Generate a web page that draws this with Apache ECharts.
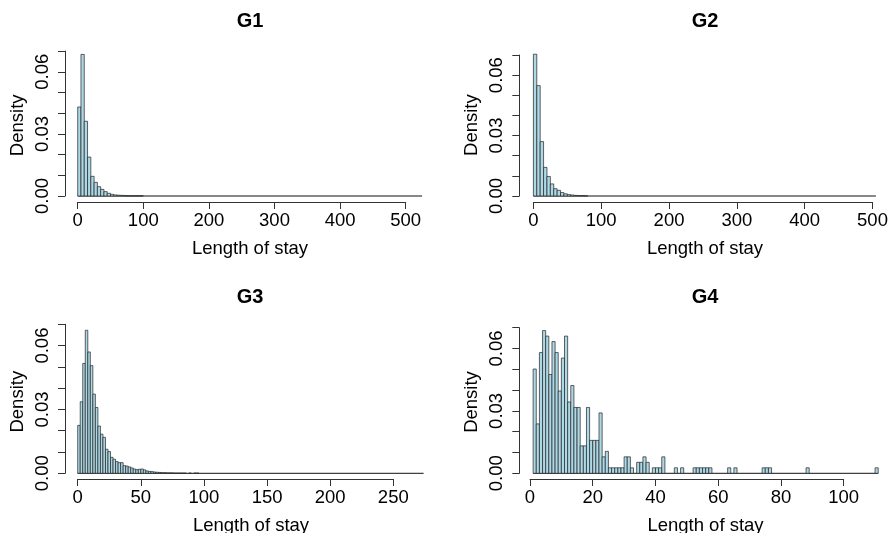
<!DOCTYPE html>
<html>
<head>
<meta charset="utf-8">
<script src="https://cdn.jsdelivr.net/npm/echarts@6/dist/echarts.min.js"></script>
<style>
html,body{margin:0;padding:0;background:#fff;}
#chart{width:891px;height:533px;}
</style>
</head>
<body>
<div id="chart"></div>
<script>
// ---------------- data ----------------
const panelTitles = ['G1', 'G2', 'G3', 'G4'];
const xLabel = 'Length of stay';
const yLabel = 'Density';

// G1: density per 5-day bin starting at 0
const g1Start = 0, g1Width = 5, g1LastBreak = 525;
const g1Density = [0.0430, 0.0684, 0.0361, 0.0188, 0.0095, 0.0066, 0.0045, 0.0032, 0.0021, 0.0013,
  0.0008, 0.0005, 0.0004, 0.0003, 0.0002, 0.0001, 0.0001, 0.0001, 0.0001, 0.0001];

// G2: density per 5-day bin starting at 0
const g2Start = 0, g2Width = 5, g2LastBreak = 505;
const g2Density = [0.0704, 0.0548, 0.0270, 0.0142, 0.0097, 0.0060, 0.0036, 0.0028, 0.0017, 0.0011,
  0.0007, 0.0005, 0.0003, 0.0002, 0.0002, 0.0001];

// G3: density per 2-day bin starting at 0
const g3Start = 0, g3Width = 2, g3LastBreak = 274;
const g3Density = [0.0225, 0.0336, 0.0516, 0.0672, 0.0570, 0.0506, 0.0372, 0.0309, 0.0222, 0.0184,
  0.0169, 0.0113, 0.0102, 0.0075, 0.0066, 0.0055, 0.0050, 0.0050, 0.0036, 0.0034,
  0.0030, 0.0025, 0.0020, 0.0017, 0.0019, 0.0020, 0.0016, 0.0011, 0.0009, 0.0008,
  0.0006, 0.0005, 0.0004, 0.0003, 0.0003, 0.0002, 0.0002, 0.0002, 0.0001, 0.0001,
  0.0001, 0.0001, 0.0001, 0.0000, 0.0001, 0.0000, 0.0001, 0.0001];

// G4: counts per 1-day bin starting at 1 (N = 379)
const g4Start = 1, g4Width = 1, g4LastBreak = 111, g4Total = 379;
const g4Counts = [19, 9, 22, 26, 25, 18, 24, 22, 15, 21,
  25, 13, 16, 12, 12, 5, 5, 12, 6, 6,
  6, 11, 3, 4, 1, 1, 1, 1, 1, 3,
  3, 1, 0, 2, 2, 3, 2, 0, 1, 1,
  1, 3, 0, 0, 0, 1, 0, 1, 0, 0,
  0, 1, 1, 1, 1, 1, 1, 0, 0, 0,
  0, 0, 1, 0, 1, 0, 0, 0, 0, 0,
  0, 0, 0, 1, 1, 1, 0, 0, 0, 0,
  0, 0, 0, 0, 0, 0, 0, 1, 0, 0,
  0, 0, 0, 0, 0, 0, 0, 0, 0, 0,
  0, 0, 0, 0, 0, 0, 0, 0, 0, 1];
const g4Density = g4Counts.map(c => c / g4Total);

// axis ticks
const xMax = [500, 500, 250, 100];
const xInterval = [100, 100, 50, 20];
const yMax = 0.07, yInterval = 0.01;
const yLabelShown = [0, 0.03, 0.06];

// ---------------- layout (pixels) ----------------
const FONT = '"Liberation Sans", Arial, sans-serif';
const layout = [
  {left: 77.7, width: 328.0, top: 51.1, height: 144.9, yOff: 12.7, xOff: 6, tx: 250, ty: 21.5,
   xlx: 250, xly: 239.5, ylx: 17.5, yly: 125.3},
  {left: 533.4, width: 339.1, top: 55.0, height: 141.0, yOff: 14.1, xOff: 6, tx: 705, ty: 21.5,
   xlx: 705, xly: 239.5, ylx: 471.8, yly: 125.1},
  {left: 77.7, width: 315.6, top: 324.3, height: 149.0, yOff: 12.7, xOff: 5.7, tx: 250, ty: 297.5,
   xlx: 251, xly: 516.5, ylx: 17.5, yly: 401.7},
  {left: 530.0, width: 313.7, top: 327.7, height: 145.6, yOff: 10.7, xOff: 5.7, tx: 705, ty: 297.5,
   xlx: 705.5, xly: 516.5, ylx: 471.8, yly: 402.0}
];

const hist = [
  {start: g1Start, width: g1Width, last: g1LastBreak, dens: g1Density},
  {start: g2Start, width: g2Width, last: g2LastBreak, dens: g2Density},
  {start: g3Start, width: g3Width, last: g3LastBreak, dens: g3Density},
  {start: g4Start, width: g4Width, last: g4LastBreak, dens: g4Density}
];

const grids = [], xAxes = [], yAxes = [], series = [], graphics = [];
const AX = '#333';
const LBL = {fontSize: 18.5, color: '#000', fontFamily: FONT};
hist.forEach((h, i) => {
  const L = layout[i];
  grids.push({left: L.left, top: L.top, width: L.width, height: L.height, containLabel: false});
  xAxes.push({
    gridIndex: i, type: 'value', min: 0, max: xMax[i], interval: xInterval[i],
    position: 'bottom', offset: L.xOff,
    axisLine: {show: true, onZero: false, lineStyle: {color: AX, width: 1}},
    axisTick: {show: true, length: 7, lineStyle: {color: AX, width: 1}},
    axisLabel: Object.assign({margin: 9.5}, LBL),
    splitLine: {show: false}
  });
  yAxes.push({
    gridIndex: i, type: 'value', min: 0, max: yMax, interval: yInterval,
    position: 'left', offset: L.yOff,
    axisLine: {show: true, onZero: false, lineStyle: {color: AX, width: 1}},
    axisTick: {show: true, length: 7, lineStyle: {color: AX, width: 1}},
    axisLabel: Object.assign({
      rotate: 90, margin: 13,
      formatter: v => {
        const r = Math.round(v * 100) / 100;
        return yLabelShown.some(s => Math.abs(s - r) < 1e-9) ? r.toFixed(2) : '';
      }
    }, LBL),
    splitLine: {show: false}
  });
  // baseline (zero-height bins) from first to last break
  series.push({
    type: 'custom', xAxisIndex: i, yAxisIndex: i, clip: false, silent: true, z: 1,
    data: [[h.start, h.last, 0]],
    encode: {x: [0, 1], y: 2},
    renderItem: (params, api) => {
      const a = api.coord([api.value(0), 0]);
      const b = api.coord([api.value(1), 0]);
      return {type: 'line', shape: {x1: a[0], y1: a[1], x2: b[0], y2: b[1]},
        style: {stroke: '#111', lineWidth: 1}};
    }
  });
  // bars
  const data = h.dens.map((d, k) => [h.start + k * h.width, h.start + (k + 1) * h.width, d]);
  series.push({
    type: 'custom', xAxisIndex: i, yAxisIndex: i, clip: false, silent: true, z: 2,
    data: data,
    encode: {x: [0, 1], y: 2},
    renderItem: (params, api) => {
      if (api.value(2) <= 0) return null;
      const p0 = api.coord([api.value(0), api.value(2)]);
      const p1 = api.coord([api.value(1), 0]);
      return {type: 'rect',
        shape: {x: p0[0], y: p0[1], width: p1[0] - p0[0], height: p1[1] - p0[1]},
        style: {fill: '#ADD8E6', stroke: '#222', lineWidth: 0.7}};
    }
  });
  graphics.push({
    type: 'text', x: L.tx, y: L.ty, silent: true,
    style: {text: panelTitles[i], fill: '#000', font: 'bold 20px ' + FONT,
      align: 'center', verticalAlign: 'middle', textAlign: 'center', textVerticalAlign: 'middle'}
  });
  graphics.push({
    type: 'text', x: L.xlx, y: L.xly, silent: true,
    style: {text: xLabel, fill: '#000', font: '18.5px ' + FONT,
      align: 'center', verticalAlign: 'top', textAlign: 'center', textVerticalAlign: 'top'}
  });
  graphics.push({
    type: 'text', x: L.ylx, y: L.yly, rotation: Math.PI / 2, silent: true,
    style: {text: yLabel, fill: '#000', font: '18.5px ' + FONT,
      align: 'center', verticalAlign: 'middle', textAlign: 'center', textVerticalAlign: 'middle'}
  });
});

const chart = echarts.init(document.getElementById('chart'), null, {renderer: 'canvas'});
chart.setOption({
  animation: false,
  backgroundColor: '#fff',
  grid: grids,
  xAxis: xAxes,
  yAxis: yAxes,
  series: series,
  graphic: graphics
});
</script>
</body>
</html>
